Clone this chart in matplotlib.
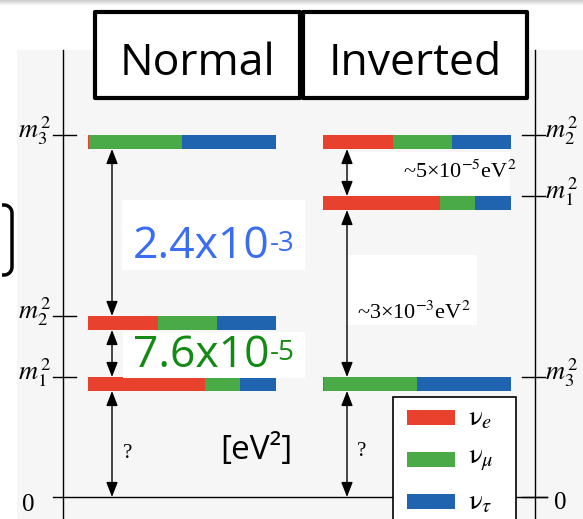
import numpy as np
import matplotlib
matplotlib.use("Agg")
import matplotlib.pyplot as plt
from matplotlib.patches import Rectangle

plt.rcParams["mathtext.fontset"] = "stix"

# schematic heights above the zero line (one unit ~ one pixel)
normal_names = ["m_3", "m_2", "m_1"]
normal_levels = [362, 181, 120]
inverted_names = ["m_2", "m_1", "m_3"]
inverted_levels = [362, 301, 120]

# flavour content of each mass state: nu_e, nu_mu, nu_tau
flavours = [r"$\mathrm{\nu}_e$", r"$\mathrm{\nu}_\mu$", r"$\mathrm{\nu}_\tau$"]
flavour_colors = ["#E8422E", "#4BAA48", "#2063AE"]
normal_frac = [[0.005, 0.495, 0.50],
               [0.37, 0.315, 0.315],
               [0.62, 0.19, 0.19]]
inverted_frac = [[0.37, 0.315, 0.315],
                 [0.62, 0.19, 0.19],
                 [0.005, 0.495, 0.50]]

titles = ["Normal", "Inverted"]
dm_big = ("2.4x10", "-3")
dm_small = ("7.6x10", "-5")
inv_small = "~5×10$^{-5}$eV$^{2}$"
inv_big = "~3×10$^{-3}$eV$^{2}$"

BAR_W = 188
BAR_H = 14
TOP = 497  # zero line sits this far below the top edge

fig = plt.figure(figsize=(5.83, 5.19), dpi=100)
ax = fig.add_axes([0, 0, 1, 1])
ax.set_xlim(0, 583)
ax.set_ylim(-22, TOP)
ax.axis("off")

# light grey page background and top shadow band
ax.add_patch(Rectangle((17, -22), 570, TOP - 50 + 22, color="#f6f6f6", lw=0, zorder=0))
grad = np.linspace(0.80, 1.0, 20).reshape(-1, 1)
ax.imshow(grad, cmap="gray", vmin=0, vmax=1, extent=(0, 583, TOP - 6, TOP),
          aspect="auto", zorder=0)

# vertical axes
for xa in (63, 535):
    ax.plot([xa, xa], [-22, TOP - 50], color="k", lw=1.0, zorder=2)
ax.plot([53, 547], [0, 0], color="k", lw=1.0, zorder=2)

serif = "Liberation Serif"


def draw_levels(x0, levels, fracs, arrow_x):
    for lev, fr in zip(levels, fracs):
        left = x0
        for f, c in zip(fr, flavour_colors):
            ax.barh(lev - BAR_H / 2, BAR_W * f, height=BAR_H, left=left,
                    color=c, edgecolor="none", zorder=3)
            left += BAR_W * f
    srt = sorted(levels, reverse=True)
    spans = [(srt[0] - BAR_H, srt[1]), (srt[1] - BAR_H, srt[2]), (srt[2] - BAR_H, 0)]
    for a, b in spans:
        ax.annotate("", xy=(arrow_x, a), xytext=(arrow_x, b),
                    arrowprops=dict(arrowstyle="<|-|>,head_length=0.9,head_width=0.35",
                                    color="k", lw=1.0, shrinkA=0, shrinkB=0,
                                    mutation_scale=10), zorder=4)


# white boxes under pasted text
for (x, y, w, h) in [(122, TOP - 270, 183, 70), (350, TOP - 195, 160, 43),
                     (347, TOP - 325, 130, 70)]:
    ax.add_patch(Rectangle((x, y), w, h, color="white", lw=0, zorder=1))

draw_levels(88, normal_levels, normal_frac, 112)
draw_levels(323, inverted_levels, inverted_frac, 347)

# white box pasted over the bars
ax.add_patch(Rectangle((123, TOP - 378), 182, 46, color="white", lw=0, zorder=5))

# tick marks and labels
for name, lev in zip(normal_names, normal_levels):
    ax.plot([53, 76], [lev, lev], color="k", lw=1.0, zorder=2)
    ax.text(52, lev + 4, f"${name}^{{\\,2}}$", ha="right", va="center",
            fontsize=19, math_fontfamily="stix")
for name, lev in zip(inverted_names, inverted_levels):
    ax.plot([522, 545], [lev, lev], color="k", lw=1.0, zorder=2)
    ax.text(545, lev + 4, f"${name}^{{\\,2}}$", ha="left", va="center",
            fontsize=19, math_fontfamily="stix")
ax.plot([522, 547], [0, 0], color="k", lw=1.0, zorder=7)
ax.text(28, -8, "0", ha="center", va="center", fontsize=18, family=serif)
ax.text(560, -6, "0", ha="center", va="center", fontsize=18, family=serif)
ax.text(128, 44, "?", ha="center", va="center", fontsize=15, family=serif)
ax.text(362, 45, "?", ha="center", va="center", fontsize=15, family=serif)

ax.text(403, TOP - 172, inv_small, ha="left", va="center", fontsize=16,
        family=serif, math_fontfamily="stix", zorder=6)
ax.text(357, TOP - 313, inv_big, ha="left", va="center", fontsize=16,
        family=serif, math_fontfamily="stix", zorder=6)

# big pasted labels with their exponents
for (base, sup), ybase, col in [(dm_big, TOP - 258, "#3A6CF4"),
                                (dm_small, TOP - 367, "#138A13")]:
    t = ax.text(133, ybase, base, ha="left", va="baseline", fontsize=32,
                family="Open Sans", color=col, zorder=6)
    ax.annotate(sup, xy=(1.0, 0.88), xycoords=t, xytext=(0, 0),
                textcoords="offset points", ha="left", va="top", fontsize=20,
                family="Open Sans", color=col, zorder=6)
ax.text(256, 47, "[eV²]", ha="center", va="center", fontsize=24,
        family="Open Sans", zorder=6)

# title boxes
for title, (x0, x1) in zip(titles, [(95, 300), (303, 527)]):
    ax.add_patch(Rectangle((x0, TOP - 98), x1 - x0, 86, facecolor="white",
                           edgecolor="k", lw=3.0, joinstyle="round", zorder=6))
    ax.text((x0 + x1) / 2, TOP - 75, title, ha="center", va="baseline",
            fontsize=32, family="Open Sans", zorder=7)

# bracket fragment at the left edge
ang = np.linspace(0, np.pi / 2, 12)
bx = np.concatenate([4 + 8 * np.sin(ang), [12, 12], 4 + 8 * np.cos(ang)])
by = np.concatenate([TOP - 205 - 8 * (1 - np.cos(ang)), [TOP - 213, TOP - 267],
                     TOP - 267 - 8 * np.sin(ang)])
ax.plot(np.r_[2, bx, 2], np.r_[TOP - 205, by, TOP - 275], color="k", lw=2.5,
        solid_capstyle="butt", clip_on=False, zorder=6)

# legend
ax.add_patch(Rectangle((393, -40), 123, TOP - 397 + 40, facecolor="white",
                       edgecolor="k", lw=1.2, zorder=8))
for i, (lab, c) in enumerate(zip(flavours, flavour_colors)):
    yc = TOP - 417 - 42 * i
    ax.add_patch(Rectangle((407, yc - 7.5), 48, 15, color=c, lw=0, zorder=9))
    ax.text(468, yc, lab, ha="left", va="center", fontsize=21,
            math_fontfamily="stix", zorder=9)

fig.savefig("out.png", dpi=100)
